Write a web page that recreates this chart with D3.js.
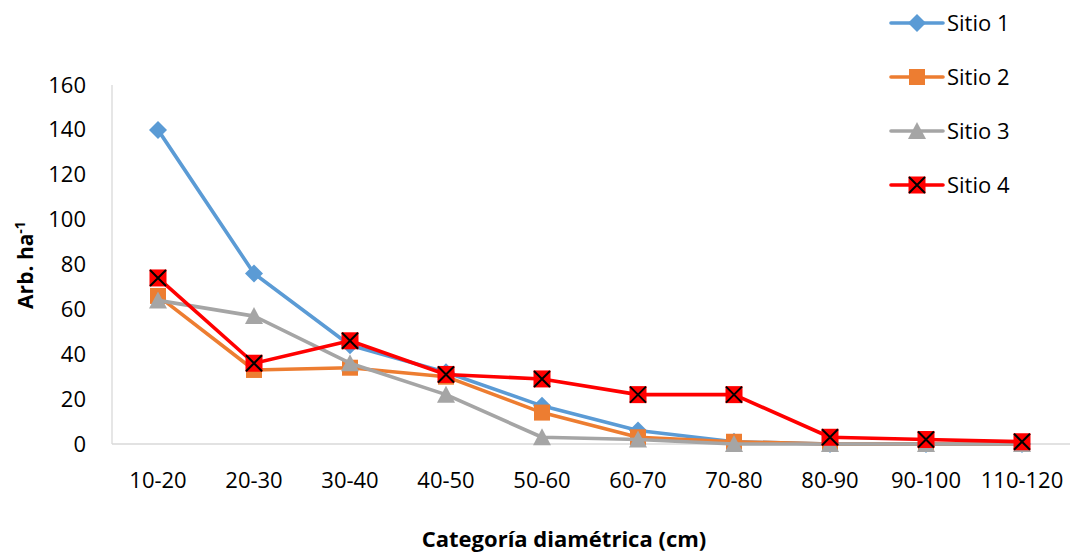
<!DOCTYPE html>
<html>
<head>
<meta charset="utf-8">
<script src="https://cdn.jsdelivr.net/npm/d3@7"></script>
<style>
  html, body { margin: 0; padding: 0; background: #fff; }
  svg { display: block; font-family: "Open Sans", "Liberation Sans", sans-serif; }
</style>
</head>
<body>
<svg id="chart" width="1072" height="554"></svg>
<script>
// Diameter classes and tree density (trees per hectare) for each site
const categories = ["10-20", "20-30", "30-40", "40-50", "50-60", "60-70", "70-80", "80-90", "90-100", "110-120"];
const sitio1 = [140, 76, 44, 32, 17, 6, 1, 0, 0, 0];
const sitio2 = [66, 33, 34, 30, 14, 3, 1, 0, 0, 0];
const sitio3 = [64, 57, 36, 22, 3, 2, 0, 0, 0, 0];
const sitio4 = [74, 36, 46, 31, 29, 22, 22, 3, 2, 1];
const seriesNames = ["Sitio 1", "Sitio 2", "Sitio 3", "Sitio 4"];
const yTicks = [0, 20, 40, 60, 80, 100, 120, 140, 160];

const series = [
  { name: seriesNames[0], values: sitio1, color: "#5B9BD5", marker: "diamond" },
  { name: seriesNames[1], values: sitio2, color: "#ED7D31", marker: "square" },
  { name: seriesNames[2], values: sitio3, color: "#A5A5A5", marker: "triangle" },
  { name: seriesNames[3], values: sitio4, color: "#FF0000", marker: "xsquare" }
];

const svg = d3.select("#chart");
const plotLeft = 112, plotRight = 1070, plotTop = 85, plotBottom = 444;
const fontSize = 22;

const x = d3.scaleBand().domain(categories).range([110, 1070]);
const y = d3.scaleLinear().domain([0, 160]).range([plotBottom, plotTop]);
const cx = c => x(c) + x.bandwidth() / 2;

// Axis lines
svg.append("line").attr("x1", plotLeft).attr("x2", plotLeft).attr("y1", plotTop).attr("y2", plotBottom)
  .attr("stroke", "#D9D9D9").attr("stroke-width", 1.3);
svg.append("line").attr("x1", plotLeft).attr("x2", plotRight).attr("y1", plotBottom).attr("y2", plotBottom)
  .attr("stroke", "#D9D9D9").attr("stroke-width", 1.3);

// Y tick labels
const yAxis = d3.axisLeft(y).tickValues(yTicks).tickSize(0).tickPadding(26);
const yg = svg.append("g").attr("transform", `translate(${plotLeft},0)`).call(yAxis);
yg.select(".domain").remove();
yg.selectAll("text").attr("font-size", fontSize).attr("fill", "#000")
  .attr("font-family", "'Open Sans', sans-serif");

// X tick labels
const xAxis = d3.axisBottom(x).tickSize(0).tickPadding(28);
const xg = svg.append("g").attr("transform", `translate(0,${plotBottom})`).call(xAxis);
xg.select(".domain").remove();
xg.selectAll("text").attr("font-size", fontSize).attr("fill", "#000")
  .attr("font-family", "'Open Sans', sans-serif");

// Axis titles
svg.append("text").attr("x", 564).attr("y", 547).attr("text-anchor", "middle")
  .attr("font-size", 22).attr("font-weight", "bold").text("Categoría diamétrica (cm)");
const yt = svg.append("text").attr("transform", "translate(33,265) rotate(-90)")
  .attr("text-anchor", "middle").attr("font-size", 21).attr("font-weight", "bold");
yt.append("tspan").text("Arb. ha");
yt.append("tspan").attr("dy", -8).attr("font-size", 14).text("-1");

// Marker drawing
function drawMarker(g, type, color) {
  if (type === "diamond") {
    g.append("path").attr("d", "M0,-9L9,0L0,9L-9,0Z").attr("fill", color);
  } else if (type === "square") {
    g.append("rect").attr("x", -8).attr("y", -8).attr("width", 16).attr("height", 16).attr("fill", color);
  } else if (type === "triangle") {
    g.append("path").attr("d", "M0,-9L9,8L-9,8Z").attr("fill", color);
  } else if (type === "xsquare") {
    g.append("rect").attr("x", -8.5).attr("y", -8.5).attr("width", 17).attr("height", 17).attr("fill", color);
    g.append("path").attr("d", "M-8,-8L8,8M8,-8L-8,8").attr("stroke", "#000").attr("stroke-width", 2);
  }
}

const line = d3.line().x((d, i) => cx(categories[i])).y(d => y(d));

series.forEach(s => {
  const g = svg.append("g");
  g.append("path").datum(s.values).attr("d", line).attr("fill", "none")
    .attr("stroke", s.color).attr("stroke-width", 3.6).attr("stroke-linejoin", "round");
  s.values.forEach((v, i) => {
    const m = g.append("g").attr("transform", `translate(${cx(categories[i])},${y(v)})`);
    drawMarker(m, s.marker, s.color);
  });
});

// Legend
const legend = svg.append("g");
series.forEach((s, i) => {
  const ly = 23 + i * 54;
  const lg = legend.append("g").attr("transform", `translate(0,${ly})`);
  lg.append("line").attr("x1", 891).attr("x2", 943).attr("y1", 0).attr("y2", 0)
    .attr("stroke", s.color).attr("stroke-width", 3.6).attr("stroke-linecap", "round");
  const m = lg.append("g").attr("transform", "translate(917,0)");
  drawMarker(m, s.marker, s.color);
  lg.append("text").attr("x", 947).attr("y", 0).attr("dy", "0.36em")
    .attr("font-size", fontSize).text(s.name);
});
</script>
</body>
</html>
